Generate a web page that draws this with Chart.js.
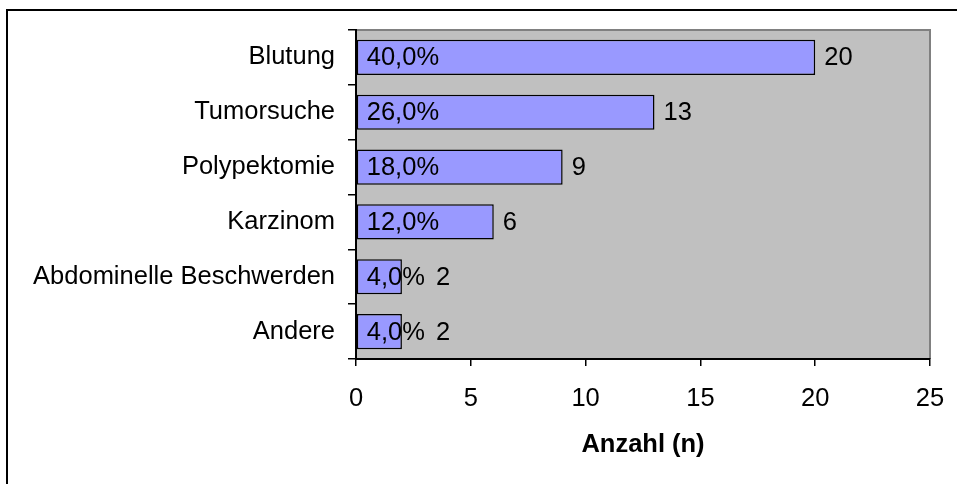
<!DOCTYPE html>
<html>
<head>
<meta charset="utf-8">
<script src="https://cdn.jsdelivr.net/npm/chart.js@4/dist/chart.umd.min.js"></script>
<style>
  html, body { margin: 0; padding: 0; background: #fff; }
  #wrap { width: 957px; height: 484px; position: relative; }
</style>
</head>
<body>
<div id="wrap"><canvas id="c" width="957" height="484"></canvas></div>
<script>
const categories = ["Blutung", "Tumorsuche", "Polypektomie", "Karzinom", "Abdominelle Beschwerden", "Andere"];
const counts = [20, 13, 9, 6, 2, 2];
const percentLabels = ["40,0%", "26,0%", "18,0%", "12,0%", "4,0%", "4,0%"];
const xTicks = [0, 5, 10, 15, 20, 25];
const axisTitle = "Anzahl (n)";

const FONT = "'Liberation Sans', Arial, sans-serif";
const FS = 25.5;

const decor = {
  id: 'decor',
  beforeDraw(chart) {
    const { ctx, chartArea: a } = chart;
    ctx.save();
    ctx.strokeStyle = '#000';
    ctx.lineWidth = 2;
    ctx.beginPath();
    ctx.moveTo(7, 484);
    ctx.lineTo(7, 10);
    ctx.lineTo(957, 10);
    ctx.stroke();
    ctx.fillStyle = '#C0C0C0';
    ctx.fillRect(a.left, a.top, a.right - a.left, a.bottom - a.top);
    ctx.strokeStyle = '#808080';
    ctx.lineWidth = 2;
    ctx.beginPath();
    ctx.moveTo(a.left, a.top);
    ctx.lineTo(a.right, a.top);
    ctx.lineTo(a.right, a.bottom);
    ctx.stroke();
    ctx.restore();
  },
  afterDatasetsDraw(chart) {
    const { ctx } = chart;
    const meta = chart.getDatasetMeta(0);
    ctx.save();
    ctx.font = FS + 'px ' + FONT;
    ctx.fillStyle = '#000';
    ctx.textBaseline = 'middle';
    ctx.textAlign = 'left';
    meta.data.forEach((bar, i) => {
      const y = bar.y + 1;
      ctx.fillText(percentLabels[i], bar.base + 10, y);
      const ds = chart.data.datasets[0].data[i];
      ctx.fillText(String(ds), i >= 4 ? bar.x + 34 : bar.x + 9, y);
    });
    ctx.restore();
  }
};

new Chart(document.getElementById('c'), {
  type: 'bar',
  data: {
    labels: categories,
    datasets: [{
      data: counts,
      backgroundColor: '#9999FF',
      borderColor: '#000',
      borderWidth: 1.5,
      borderSkipped: false,
      categoryPercentage: 0.64,
      barPercentage: 1.0
    }]
  },
  options: {
    indexAxis: 'y',
    responsive: false,
    animation: false,
    devicePixelRatio: 1,
    layout: { padding: { top: 30, right: 27, left: 0, bottom: 0 } },
    plugins: { legend: { display: false }, tooltip: { enabled: false } },
    scales: {
      x: {
        type: 'linear',
        min: 0, max: 25,
        afterBuildTicks(scale) { scale.ticks = xTicks.map(v => ({ value: v })); },
        afterFit(scale) { scale.height = 125; scale.paddingRight = 0; scale.paddingLeft = 0; },
        grid: { drawOnChartArea: false, tickLength: 7, color: '#000', lineWidth: 1.5 },
        border: { color: '#000', width: 2 },
        ticks: { color: '#000', font: { family: FONT, size: FS }, padding: 18, maxRotation: 0 },
        title: {
          display: true, text: axisTitle, color: '#000',
          font: { family: FONT, size: FS, weight: 'bold' },
          padding: { top: 0, bottom: 24 }
        }
      },
      y: {
        type: 'category',
        afterFit(scale) { scale.width = 356; scale.paddingTop = 0; scale.paddingBottom = 0; },
        grid: { drawOnChartArea: false, tickLength: 8, color: '#000', lineWidth: 1.5, offset: true },
        border: { color: '#000', width: 2 },
        ticks: { color: '#000', font: { family: FONT, size: FS }, padding: 13 }
      }
    }
  },
  plugins: [decor]
});
</script>
</body>
</html>
